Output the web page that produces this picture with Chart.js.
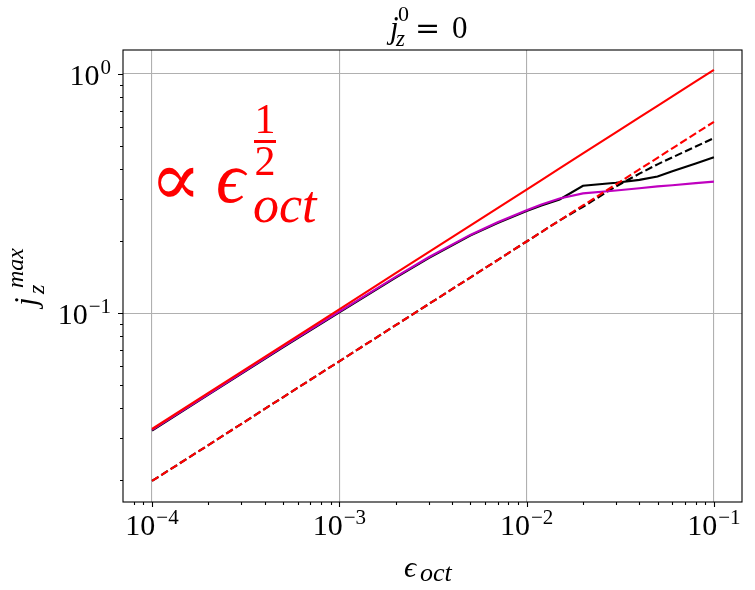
<!DOCTYPE html>
<html>
<head>
<meta charset="utf-8">
<script src="https://cdn.jsdelivr.net/npm/chart.js@4.4.1/dist/chart.umd.min.js"></script>
<style>
  html, body { margin: 0; padding: 0; background: #fff; }
  #box { width: 755px; height: 590px; }
</style>
</head>
<body>
<div id="box"><canvas id="myChart" width="755" height="590"></canvas></div>
<script>
// epsilon_oct values (x)
var epsOct = [1e-4, 2e-4, 5e-4, 1e-3, 2e-3, 3e-3, 5e-3, 7e-3, 1e-2, 1.2e-2, 1.5e-2, 2e-2, 3e-2, 4e-2, 5e-2, 6e-2, 8e-2, 1e-1];

// j_z max
var redSolid  = [0.0328, 0.0464, 0.0733, 0.1037, 0.1467, 0.1797, 0.2319, 0.2744, 0.328, 0.3593, 0.4017, 0.4639, 0.5681, 0.656, 0.7334, 0.8034, 0.9277, 1.037];
var redDash   = [0.0199, 0.0281, 0.0445, 0.0629, 0.0890, 0.1090, 0.1407, 0.1665, 0.199, 0.218, 0.2437, 0.2814, 0.3447, 0.398, 0.445, 0.4875, 0.5629, 0.629];
var blackDash = [0.0199, 0.0281, 0.0445, 0.0629, 0.0890, 0.1090, 0.1407, 0.1665, 0.199, 0.218, 0.2437, 0.278, 0.338, 0.382, 0.418, 0.447, 0.496, 0.538];
var blackSolid = [0.0323, 0.0456, 0.0719, 0.1008, 0.1405, 0.1695, 0.2105, 0.2375, 0.2665, 0.281, 0.298, 0.340, 0.350, 0.360, 0.372, 0.391, 0.421, 0.447];
var magenta   = [0.0325, 0.0459, 0.0724, 0.1015, 0.1415, 0.171, 0.212, 0.2395, 0.269, 0.284, 0.301, 0.316, 0.325, 0.332, 0.338, 0.342, 0.349, 0.354];

// axis limits and tick labels (decade exponents)
var xLim = [Math.pow(10, -4.15), Math.pow(10, -0.85)];
var yLim = [Math.pow(10, -1.789), Math.pow(10, 0.0986)];
var xTickExps = [-4, -3, -2, -1];
var yTickExps = [-1, 0];

function pts(ys) {
    var out = [];
    for (var i = 0; i < epsOct.length; i++) {
        out.push({ x: epsOct[i], y: ys[i] });
    }
    return out;
}

function isDecade(v) {
    var l = Math.log10(v);
    return Math.abs(l - Math.round(l)) < 1e-6;
}

// major + minor ticks inside the limits
function logTicks(min, max) {
    var t = [];
    for (var d = Math.floor(Math.log10(min)); d <= Math.ceil(Math.log10(max)); d++) {
        for (var m = 1; m <= 9; m++) {
            var v = m * Math.pow(10, d);
            if (v >= min && v <= max) t.push({ value: v });
        }
    }
    return t;
}

var SERIF = '"Liberation Serif", "DejaVu Serif", serif';
var MINUS = '\u2212';

function supLabel(ctx, x, y, base, exp, align) {
    // "10" with a raised exponent; x is center (align c) or right edge (align r)
    ctx.font = '30px ' + SERIF;
    var wb = ctx.measureText(base).width;
    ctx.font = '21px ' + SERIF;
    var we = ctx.measureText(exp).width;
    var w = wb + 1 + we;
    var x0 = align === 'c' ? x - w / 2 : x - w;
    ctx.textAlign = 'left';
    ctx.textBaseline = 'alphabetic';
    ctx.font = '30px ' + SERIF;
    ctx.fillText(base, x0, y);
    ctx.font = '21px ' + SERIF;
    ctx.fillText(exp, x0 + wb + 1, y - 11);
}

const decor = {
    id: 'decor',
    afterDraw(chart) {
        var ctx = chart.ctx;
        var a = chart.chartArea;
        var xs = chart.scales.x, ys = chart.scales.y;
        ctx.save();
        ctx.strokeStyle = '#000';
        ctx.fillStyle = '#000';
        ctx.lineWidth = 1.1;

        // frame
        ctx.strokeRect(a.left, a.top, a.right - a.left, a.bottom - a.top);

        // ticks, outside
        ctx.beginPath();
        xs.ticks.forEach(function (t) {
            var px = Math.round(xs.getPixelForValue(t.value)) + 0.5;
            var len = isDecade(t.value) ? 5 : 3;
            ctx.moveTo(px, a.bottom);
            ctx.lineTo(px, a.bottom + len);
        });
        ys.ticks.forEach(function (t) {
            var py = Math.round(ys.getPixelForValue(t.value)) + 0.5;
            var len = isDecade(t.value) ? 5 : 3;
            ctx.moveTo(a.left, py);
            ctx.lineTo(a.left - len, py);
        });
        ctx.stroke();

        // tick labels
        xTickExps.forEach(function (e) {
            var px = xs.getPixelForValue(Math.pow(10, e));
            supLabel(ctx, px, 535, '10', (e < 0 ? MINUS : '') + Math.abs(e), 'c');
        });
        yTickExps.forEach(function (e) {
            var py = ys.getPixelForValue(Math.pow(10, e));
            supLabel(ctx, 111, py + 11, '10', (e < 0 ? MINUS : '') + Math.abs(e), 'r');
        });

        // title  j_z^0 = 0
        ctx.textAlign = 'left';
        ctx.font = 'italic 31px ' + SERIF;
        ctx.fillText('j', 390, 38);
        ctx.font = '22px ' + SERIF;
        ctx.fillText('0', 398, 21);
        ctx.font = 'italic 23px ' + SERIF;
        ctx.fillText('z', 396, 46);
        ctx.font = '30px "DejaVu Serif", serif';
        ctx.fillText('=', 415, 38);
        ctx.font = '31px ' + SERIF;
        ctx.fillText('0', 452, 38);

        // x label  eps_oct
        ctx.font = 'italic 30px ' + SERIF;
        ctx.fillText('\u03F5', 404, 577);
        ctx.font = 'italic 26px ' + SERIF;
        ctx.fillText('oct', 420, 581);

        // y label  j_z^max (rotated)
        ctx.save();
        ctx.translate(36, 306);
        ctx.rotate(-Math.PI / 2);
        ctx.font = 'italic 31px ' + SERIF;
        ctx.fillText('j', 0, 0);
        ctx.font = 'italic 24px ' + SERIF;
        ctx.fillText('max', 18, -13);
        ctx.fillText('z', 12, 8);
        ctx.restore();

        // red annotation  ∝ eps_oct^(1/2)
        ctx.fillStyle = '#ff0000';
        ctx.strokeStyle = '#ff0000';
        ctx.font = '76px ' + SERIF;
        ctx.fillText('\u221D', 150, 205);
        ctx.font = 'italic 72px ' + SERIF;
        ctx.fillText('\u03F5', 216, 202);
        ctx.font = 'italic 52px ' + SERIF;
        ctx.fillText('oct', 253, 222);
        ctx.font = '42px ' + SERIF;
        ctx.textAlign = 'center';
        ctx.fillText('1', 265, 133);
        ctx.fillText('2', 265, 175);
        ctx.fillRect(254, 140, 22, 3);
        ctx.restore();
    }
};

const lineStyle = { fill: false, pointRadius: 0, borderWidth: 2.1, tension: 0 };

const data = {
    datasets: [
        Object.assign({ label: 'fit dashed', data: pts(redDash), borderColor: '#ff0000', borderDash: [7.7, 3.3] }, lineStyle),
        Object.assign({ label: 'fit', data: pts(redSolid), borderColor: '#ff0000' }, lineStyle),
        Object.assign({ label: 'magenta', data: pts(magenta), borderColor: '#bf00bf' }, lineStyle),
        Object.assign({ label: 'black dashed', data: pts(blackDash), borderColor: '#000000', borderDash: [7.7, 3.3] }, lineStyle),
        Object.assign({ label: 'black', data: pts(blackSolid), borderColor: '#000000' }, lineStyle)
    ]
};

const config = {
    type: 'line',
    data: data,
    options: {
        responsive: false,
        animation: false,
        devicePixelRatio: 1,
        layout: { padding: { left: 123, right: 13, top: 50, bottom: 88 } },
        plugins: { legend: { display: false }, tooltip: { enabled: false } },
        scales: {
            x: {
                type: 'logarithmic',
                min: xLim[0],
                max: xLim[1],
                afterBuildTicks: function (s) { s.ticks = logTicks(xLim[0], xLim[1]); },
                ticks: { display: false },
                border: { display: false },
                grid: {
                    drawTicks: false,
                    lineWidth: 1.1,
                    color: function (c) { return c.tick && isDecade(c.tick.value) ? '#b0b0b0' : 'rgba(0,0,0,0)'; }
                }
            },
            y: {
                type: 'logarithmic',
                min: yLim[0],
                max: yLim[1],
                afterBuildTicks: function (s) { s.ticks = logTicks(yLim[0], yLim[1]); },
                ticks: { display: false },
                border: { display: false },
                grid: {
                    drawTicks: false,
                    lineWidth: 1.1,
                    color: function (c) { return c.tick && isDecade(c.tick.value) ? '#b0b0b0' : 'rgba(0,0,0,0)'; }
                }
            }
        }
    },
    plugins: [decor]
};

const myChart = new Chart(document.getElementById('myChart'), config);
</script>
</body>
</html>
